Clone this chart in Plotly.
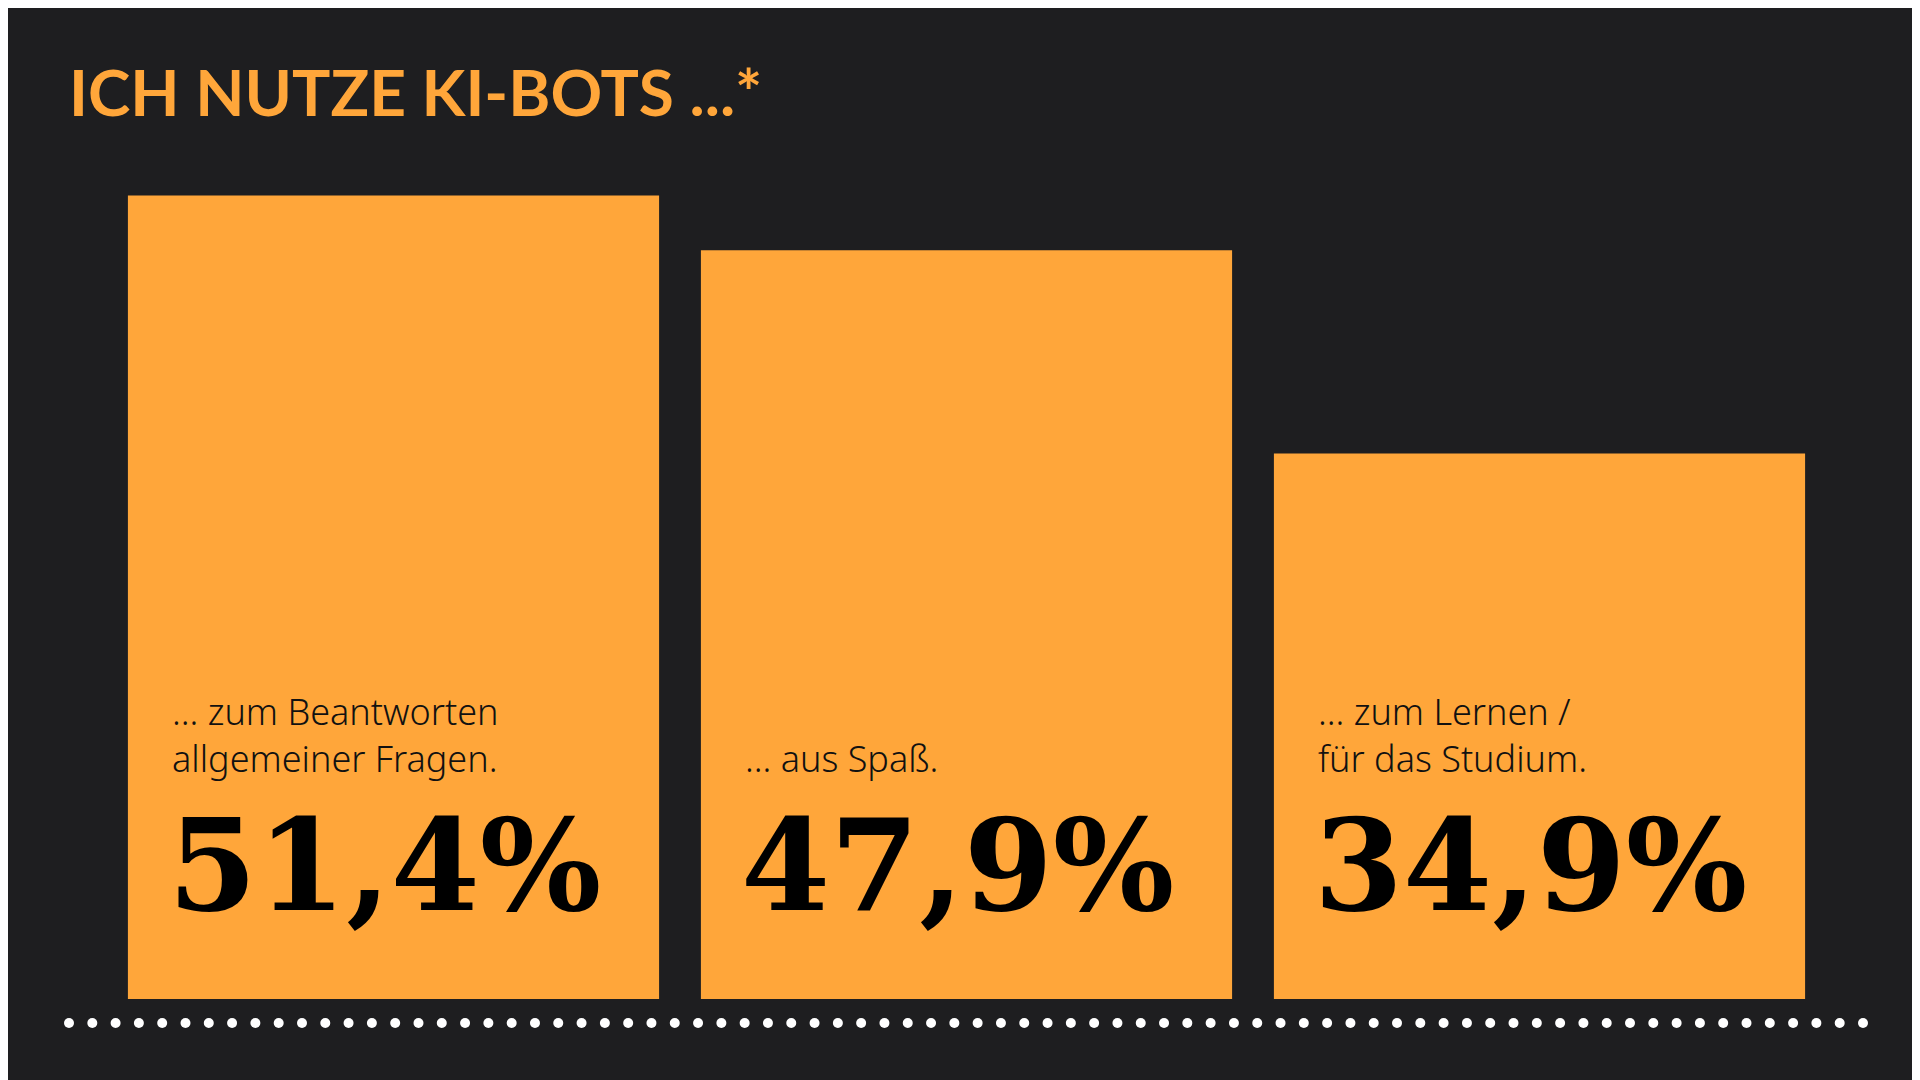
import numpy as np
import plotly.graph_objects as go

labels = ["... zum Beantworten<br>allgemeiner Fragen.", "... aus Spaß.", "... zum Lernen /<br>für das Studium."]
values = [51.4, 47.9, 34.9]
value_text = ["51,4%", "47,9%", "34,9%"]

orange = "#FFA63A"
bg = "#1E1E20"
width = 0.927

fig = go.Figure()
fig.add_trace(go.Bar(x=[0, 1, 2], y=values, width=width,
                     marker_color=orange, marker_line_width=0, hoverinfo="skip"))

for i, (lab, txt) in enumerate(zip(labels, value_text)):
    fig.add_annotation(x=i - width / 2, y=13.7, xref="x", yref="y", text=lab,
                       xanchor="left", yanchor="bottom", align="left", xshift=42,
                       showarrow=False,
                       font=dict(family="Noto Sans", size=36, color="#111", weight=300))
    fig.add_annotation(x=i - width / 2, y=8.6, xref="x", yref="y", text=txt,
                       xanchor="left", yanchor="middle", xshift=38, showarrow=False,
                       font=dict(family="DejaVu Serif", size=128, color="#000", weight="bold"))

fig.add_annotation(x=-0.023, y=0.968, xref="paper", yref="paper",
                   text="ICH NUTZE KI-BOTS ...*", xanchor="left", yanchor="middle",
                   showarrow=False,
                   font=dict(family="Lato", size=64, color=orange, weight="bold"))

# dotted baseline
plot_w = 1920 - 99 - 102
for px in np.linspace(61, 1855, 78):
    xp = (px - 99) / plot_w
    fig.add_shape(type="circle", xref="paper", yref="paper",
                  xsizemode="pixel", ysizemode="pixel",
                  xanchor=xp, yanchor=(991 - 1015) / 938,
                  x0=-5, x1=5, y0=-5, y1=5,
                  fillcolor="white", line_width=0)

fig.update_layout(width=1920, height=1080, paper_bgcolor=bg, plot_bgcolor=bg,
                  margin=dict(l=99, r=102, t=53, b=89), showlegend=False,
                  xaxis=dict(range=[-0.5, 2.5], visible=False, fixedrange=True),
                  yaxis=dict(range=[0, 60], visible=False, fixedrange=True))

fig.write_html("out.html")
